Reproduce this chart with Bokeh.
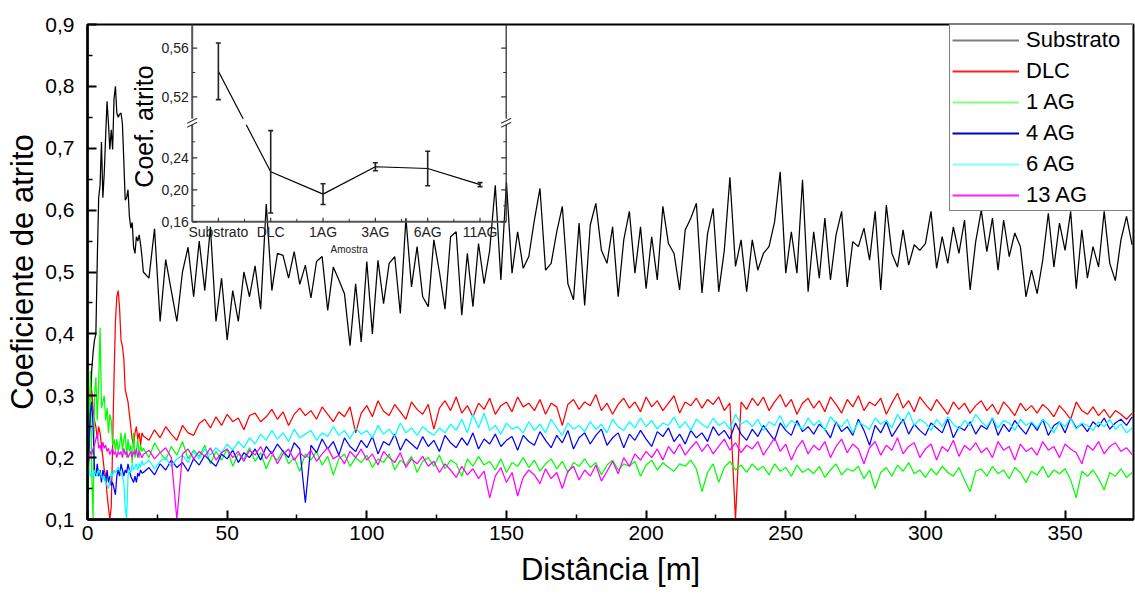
import numpy as np
from bokeh.plotting import figure
from bokeh.models import Range1d, FixedTicker, CustomJSTickFormatter, Legend, LegendItem
from bokeh.embed import file_html
from bokeh.resources import INLINE
from bokeh.core.properties import value

# ---------------- data ----------------
# sampling grid of the distance axis (m): fine near the start, then every 2 m
distancia = np.concatenate([np.arange(0, 20, 0.5), np.arange(20, 376, 2)])

substrato = [
    0.13, 0.20, 0.28, 0.34, 0.37, 0.39, 0.40, 0.52, 0.62, 0.64,
    0.71, 0.62, 0.66, 0.72, 0.776, 0.74, 0.698, 0.73, 0.698, 0.78,
    0.80, 0.757, 0.75, 0.755, 0.757, 0.74, 0.68, 0.616, 0.62, 0.633,
    0.59, 0.571, 0.58, 0.54, 0.53, 0.557, 0.55, 0.56, 0.545, 0.525,
    0.50, 0.49, 0.57, 0.42, 0.52, 0.47, 0.42, 0.50, 0.54, 0.46,
    0.55, 0.47, 0.573, 0.42, 0.49, 0.39, 0.47, 0.42, 0.50, 0.46,
    0.51, 0.44, 0.61, 0.47, 0.53, 0.527, 0.49, 0.533, 0.48, 0.511,
    0.458, 0.517, 0.525, 0.438, 0.508, 0.487, 0.465, 0.381, 0.481, 0.387,
    0.517, 0.40, 0.519, 0.449, 0.514, 0.525, 0.433, 0.587, 0.476, 0.541,
    0.46, 0.444, 0.552, 0.50, 0.44, 0.557, 0.565, 0.43, 0.53, 0.444,
    0.546, 0.481, 0.535, 0.64, 0.487, 0.645, 0.498, 0.565, 0.506, 0.525,
    0.584, 0.635, 0.503, 0.514, 0.565, 0.606, 0.481, 0.455, 0.579, 0.446,
    0.576, 0.611, 0.535, 0.514, 0.573, 0.46, 0.552, 0.598, 0.498, 0.573,
    0.473, 0.557, 0.487, 0.606, 0.546, 0.53, 0.471, 0.568, 0.587, 0.611,
    0.466, 0.562, 0.603, 0.468, 0.535, 0.653, 0.509, 0.552, 0.468, 0.552,
    0.503, 0.53, 0.541, 0.581, 0.662, 0.498, 0.565, 0.498, 0.649, 0.468,
    0.565, 0.49, 0.587, 0.487, 0.56, 0.598, 0.476, 0.549, 0.541, 0.571,
    0.519, 0.598, 0.471, 0.608, 0.53, 0.508, 0.568, 0.511, 0.544, 0.535,
    0.546, 0.598, 0.506, 0.557, 0.514, 0.573, 0.53, 0.584, 0.471, 0.549,
    0.60, 0.533, 0.587, 0.503, 0.584, 0.525, 0.563, 0.541, 0.46, 0.503,
    0.465, 0.519, 0.595, 0.508, 0.579, 0.535, 0.598, 0.473, 0.568, 0.49,
    0.541, 0.508, 0.598, 0.514, 0.486, 0.552, 0.59, 0.544,
]

dlc = [
    0.24, 0.27, 0.29, 0.31, 0.28, 0.26, 0.25, 0.23, 0.25, 0.24,
    0.22, 0.20, 0.18, 0.17, 0.14, 0.12, 0.10, 0.12, 0.22, 0.33,
    0.42, 0.46, 0.47, 0.44, 0.39, 0.38, 0.36, 0.31, 0.30, 0.29,
    0.27, 0.25, 0.23, 0.22, 0.24, 0.25, 0.23, 0.24, 0.22, 0.24,
    0.235, 0.228, 0.245, 0.232, 0.250, 0.238, 0.228, 0.252, 0.240, 0.236,
    0.255, 0.262, 0.248, 0.266, 0.252, 0.270, 0.258, 0.264, 0.245, 0.268,
    0.272, 0.258, 0.266, 0.278, 0.262, 0.274, 0.252, 0.270, 0.280, 0.268,
    0.276, 0.262, 0.282, 0.270, 0.258, 0.274, 0.266, 0.282, 0.240, 0.272,
    0.284, 0.266, 0.292, 0.275, 0.268, 0.286, 0.274, 0.262, 0.290, 0.278,
    0.270, 0.286, 0.246, 0.280, 0.292, 0.276, 0.298, 0.272, 0.284, 0.266,
    0.288, 0.278, 0.296, 0.270, 0.284, 0.290, 0.274, 0.298, 0.282, 0.288,
    0.276, 0.294, 0.270, 0.288, 0.282, 0.252, 0.286, 0.294, 0.278, 0.290,
    0.284, 0.302, 0.276, 0.288, 0.270, 0.286, 0.296, 0.280, 0.290, 0.274,
    0.298, 0.282, 0.292, 0.276, 0.288, 0.300, 0.272, 0.290, 0.284, 0.296,
    0.280, 0.294, 0.286, 0.298, 0.276, 0.288, 0.100, 0.290, 0.278, 0.296,
    0.284, 0.298, 0.276, 0.290, 0.302, 0.282, 0.294, 0.270, 0.288, 0.296,
    0.280, 0.292, 0.274, 0.298, 0.286, 0.272, 0.294, 0.282, 0.300, 0.276,
    0.290, 0.284, 0.296, 0.270, 0.288, 0.304, 0.280, 0.292, 0.274, 0.298,
    0.286, 0.276, 0.294, 0.282, 0.270, 0.290, 0.278, 0.288, 0.272, 0.284,
    0.292, 0.276, 0.286, 0.270, 0.290, 0.280, 0.268, 0.288, 0.276, 0.284,
    0.272, 0.286, 0.278, 0.266, 0.284, 0.274, 0.262, 0.290, 0.276, 0.270,
    0.282, 0.268, 0.278, 0.264, 0.276, 0.270, 0.262, 0.272,
]

ag1 = [
    0.14, 0.24, 0.34, 0.18, 0.10, 0.30, 0.33, 0.26, 0.32, 0.41,
    0.28, 0.29, 0.30, 0.26, 0.28, 0.24, 0.27, 0.26, 0.22, 0.23,
    0.21, 0.23, 0.21, 0.22, 0.24, 0.21, 0.23, 0.24, 0.20, 0.23,
    0.21, 0.22, 0.19, 0.24, 0.20, 0.21, 0.23, 0.20, 0.22, 0.21,
    0.215, 0.200, 0.224, 0.208, 0.196, 0.218, 0.204, 0.226, 0.198, 0.212,
    0.202, 0.220, 0.190, 0.210, 0.196, 0.214, 0.186, 0.206, 0.198, 0.216,
    0.194, 0.208, 0.182, 0.204, 0.196, 0.212, 0.190, 0.200, 0.178, 0.206,
    0.196, 0.210, 0.188, 0.202, 0.172, 0.198, 0.206, 0.186, 0.200, 0.192,
    0.204, 0.184, 0.198, 0.192, 0.206, 0.180, 0.196, 0.188, 0.202, 0.176,
    0.194, 0.200, 0.186, 0.204, 0.182, 0.196, 0.190, 0.170, 0.198, 0.186,
    0.202, 0.188, 0.194, 0.180, 0.198, 0.176, 0.192, 0.186, 0.200, 0.184,
    0.196, 0.178, 0.190, 0.198, 0.182, 0.194, 0.176, 0.192, 0.186, 0.198,
    0.184, 0.192, 0.172, 0.188, 0.196, 0.180, 0.190, 0.186, 0.194, 0.170,
    0.188, 0.196, 0.180, 0.192, 0.184, 0.178, 0.190, 0.186, 0.196, 0.182,
    0.145, 0.176, 0.190, 0.160, 0.184, 0.194, 0.180, 0.188, 0.176, 0.190,
    0.180, 0.186, 0.172, 0.190, 0.178, 0.184, 0.170, 0.188, 0.176, 0.182,
    0.174, 0.186, 0.168, 0.180, 0.190, 0.172, 0.182, 0.178, 0.186, 0.166,
    0.180, 0.150, 0.176, 0.184, 0.170, 0.188, 0.178, 0.192, 0.174, 0.180,
    0.168, 0.182, 0.172, 0.186, 0.176, 0.170, 0.184, 0.164, 0.145, 0.178,
    0.182, 0.170, 0.186, 0.174, 0.180, 0.166, 0.184, 0.176, 0.160, 0.178,
    0.172, 0.186, 0.168, 0.180, 0.174, 0.182, 0.164, 0.135, 0.178, 0.170,
    0.180, 0.166, 0.148, 0.176, 0.170, 0.182, 0.168, 0.176,
]

ag4 = [
    0.20, 0.22, 0.27, 0.29, 0.25, 0.18, 0.17, 0.19, 0.17, 0.18,
    0.16, 0.18, 0.17, 0.16, 0.18, 0.16, 0.17, 0.155, 0.16, 0.15,
    0.14, 0.17, 0.18, 0.17, 0.19, 0.18, 0.17, 0.18, 0.175, 0.19,
    0.18, 0.17, 0.165, 0.16, 0.17, 0.16, 0.175, 0.17, 0.18, 0.175,
    0.176, 0.184, 0.172, 0.190, 0.180, 0.196, 0.184, 0.192, 0.178, 0.198,
    0.188, 0.204, 0.194, 0.186, 0.206, 0.198, 0.212, 0.192, 0.208, 0.200,
    0.214, 0.196, 0.218, 0.206, 0.222, 0.210, 0.200, 0.224, 0.214, 0.127,
    0.220, 0.208, 0.230, 0.214, 0.226, 0.204, 0.232, 0.218, 0.210, 0.228,
    0.216, 0.234, 0.206, 0.226, 0.220, 0.238, 0.212, 0.230, 0.222, 0.214,
    0.234, 0.218, 0.228, 0.210, 0.236, 0.224, 0.216, 0.232, 0.220, 0.240,
    0.214, 0.230, 0.222, 0.238, 0.218, 0.228, 0.234, 0.212, 0.236, 0.226,
    0.220, 0.242, 0.228, 0.216, 0.236, 0.224, 0.244, 0.214, 0.232, 0.240,
    0.222, 0.236, 0.246, 0.220, 0.232, 0.240, 0.216, 0.238, 0.228, 0.244,
    0.230, 0.218, 0.242, 0.234, 0.248, 0.226, 0.238, 0.222, 0.244, 0.232,
    0.240, 0.226, 0.250, 0.236, 0.244, 0.230, 0.256, 0.238, 0.228, 0.246,
    0.234, 0.252, 0.240, 0.228, 0.256, 0.244, 0.236, 0.260, 0.242, 0.250,
    0.238, 0.254, 0.246, 0.232, 0.258, 0.242, 0.250, 0.236, 0.262, 0.244,
    0.220, 0.252, 0.240, 0.258, 0.234, 0.248, 0.262, 0.238, 0.254, 0.244,
    0.236, 0.256, 0.248, 0.240, 0.262, 0.232, 0.250, 0.244, 0.258, 0.238,
    0.252, 0.246, 0.264, 0.236, 0.254, 0.242, 0.260, 0.248, 0.238, 0.256,
    0.244, 0.262, 0.236, 0.252, 0.258, 0.240, 0.264, 0.248, 0.254, 0.242,
    0.258, 0.250, 0.264, 0.246, 0.256, 0.262, 0.252, 0.266,
]

ag6 = [
    0.19, 0.18, 0.17, 0.175, 0.17, 0.18, 0.175, 0.17, 0.18, 0.175,
    0.17, 0.165, 0.17, 0.16, 0.155, 0.15, 0.16, 0.175, 0.17, 0.18,
    0.175, 0.18, 0.185, 0.18, 0.175, 0.17, 0.16, 0.12, 0.10, 0.17,
    0.18, 0.175, 0.19, 0.18, 0.185, 0.19, 0.18, 0.19, 0.185, 0.195,
    0.188, 0.196, 0.182, 0.194, 0.200, 0.186, 0.198, 0.204, 0.192, 0.210,
    0.198, 0.214, 0.204, 0.216, 0.208, 0.222, 0.212, 0.226, 0.216, 0.232,
    0.222, 0.238, 0.228, 0.244, 0.230, 0.240, 0.226, 0.246, 0.232, 0.238,
    0.244, 0.228, 0.240, 0.234, 0.250, 0.236, 0.244, 0.230, 0.248, 0.238,
    0.244, 0.232, 0.252, 0.238, 0.246, 0.234, 0.256, 0.240, 0.248, 0.236,
    0.250, 0.242, 0.236, 0.248, 0.240, 0.254, 0.244, 0.262, 0.240, 0.270,
    0.248, 0.272, 0.244, 0.252, 0.238, 0.256, 0.246, 0.250, 0.240, 0.258,
    0.244, 0.254, 0.240, 0.262, 0.248, 0.236, 0.256, 0.246, 0.252, 0.242,
    0.258, 0.246, 0.254, 0.240, 0.262, 0.250, 0.244, 0.258, 0.248, 0.264,
    0.250, 0.260, 0.246, 0.256, 0.252, 0.266, 0.248, 0.258, 0.244, 0.262,
    0.254, 0.248, 0.264, 0.252, 0.258, 0.246, 0.270, 0.254, 0.260, 0.250,
    0.262, 0.244, 0.258, 0.252, 0.268, 0.248, 0.260, 0.254, 0.246, 0.264,
    0.252, 0.260, 0.244, 0.266, 0.256, 0.250, 0.262, 0.240, 0.258, 0.252,
    0.246, 0.264, 0.254, 0.260, 0.248, 0.270, 0.256, 0.274, 0.252, 0.262,
    0.256, 0.244, 0.262, 0.250, 0.266, 0.254, 0.246, 0.260, 0.252, 0.270,
    0.258, 0.250, 0.264, 0.248, 0.260, 0.256, 0.244, 0.262, 0.252, 0.258,
    0.248, 0.262, 0.254, 0.240, 0.258, 0.250, 0.264, 0.246, 0.256, 0.252,
    0.244, 0.258, 0.250, 0.262, 0.246, 0.254, 0.240, 0.248,
]

ag13 = [
    0.20, 0.195, 0.21, 0.205, 0.215, 0.22, 0.23, 0.24, 0.215, 0.22,
    0.21, 0.225, 0.215, 0.22, 0.21, 0.215, 0.205, 0.21, 0.215, 0.205,
    0.21, 0.20, 0.21, 0.205, 0.21, 0.20, 0.215, 0.205, 0.21, 0.20,
    0.205, 0.21, 0.20, 0.21, 0.205, 0.215, 0.20, 0.21, 0.205, 0.20,
    0.205, 0.212, 0.198, 0.208, 0.216, 0.200, 0.100, 0.206, 0.214, 0.198,
    0.210, 0.202, 0.216, 0.196, 0.208, 0.214, 0.200, 0.210, 0.194, 0.212,
    0.204, 0.218, 0.198, 0.210, 0.190, 0.206, 0.214, 0.196, 0.208, 0.200,
    0.212, 0.194, 0.206, 0.216, 0.198, 0.204, 0.190, 0.210, 0.200, 0.214,
    0.196, 0.206, 0.188, 0.210, 0.200, 0.192, 0.208, 0.184, 0.198, 0.190,
    0.202, 0.186, 0.194, 0.176, 0.190, 0.180, 0.168, 0.186, 0.172, 0.182,
    0.166, 0.178, 0.135, 0.170, 0.184, 0.160, 0.176, 0.138, 0.168, 0.180,
    0.172, 0.158, 0.182, 0.166, 0.176, 0.150, 0.178, 0.186, 0.164, 0.180,
    0.170, 0.188, 0.162, 0.178, 0.194, 0.174, 0.200, 0.186, 0.206, 0.196,
    0.210, 0.200, 0.214, 0.196, 0.218, 0.206, 0.222, 0.204, 0.216, 0.226,
    0.210, 0.222, 0.206, 0.218, 0.230, 0.212, 0.224, 0.208, 0.220, 0.214,
    0.226, 0.204, 0.218, 0.232, 0.210, 0.222, 0.196, 0.216, 0.228, 0.206,
    0.220, 0.212, 0.226, 0.200, 0.218, 0.230, 0.208, 0.222, 0.214, 0.190,
    0.216, 0.226, 0.204, 0.220, 0.212, 0.232, 0.206, 0.218, 0.224, 0.200,
    0.214, 0.222, 0.196, 0.218, 0.210, 0.228, 0.202, 0.220, 0.212, 0.224,
    0.208, 0.216, 0.200, 0.226, 0.212, 0.218, 0.196, 0.222, 0.210, 0.216,
    0.204, 0.226, 0.212, 0.218, 0.200, 0.222, 0.214, 0.208, 0.190, 0.220,
    0.212, 0.226, 0.206, 0.218, 0.224, 0.210, 0.216, 0.205,
]

series_names = ["Substrato", "DLC", "1 AG", "4 AG", "6 AG", "13 AG"]
series_values = [substrato, dlc, ag1, ag4, ag6, ag13]
series_colors = ["#000000", "#ff0000", "#00ff00", "#0000ff", "#00ffff", "#ff00ff"]
legend_colors = ["#808080", "#ff2020", "#80ff80", "#0000c8", "#80ffff", "#ff20ff"]

# inset: mean friction coefficient per sample, with error bars
inset_cats = ["Substrato", "DLC", "1AG", "3AG", "6AG", "11AG"]
inset_mean = [0.541, 0.2225, 0.1946, 0.2288, 0.2266, 0.2065]
inset_err = [0.0233, 0.0515, 0.013, 0.005, 0.0215, 0.0025]
inset_low_ticks = [0.16, 0.20, 0.24]
inset_low_minor = [0.18, 0.22, 0.26]
inset_up_ticks = [0.52, 0.56]
inset_up_minor = [0.54]

y_ticks = [0.1, 0.2, 0.3, 0.4, 0.5, 0.6, 0.7, 0.8, 0.9]
y_minor = [0.15, 0.25, 0.35, 0.45, 0.55, 0.65, 0.75, 0.85]
x_ticks = [0, 50, 100, 150, 200, 250, 300, 350]
x_minor = [25, 75, 125, 175, 225, 275, 325, 375]

for s in series_values:
    assert len(s) == len(distancia), (len(s), len(distancia))

# ---------------- layout ----------------
W, H = 1135, 594
BL, BR, BT, BB = 87, 2, 24, 75
FRAME_W, FRAME_H = W - BL - BR, H - BT - BB
FONT = "Liberation Sans"

p = figure(width=W, height=H, x_range=Range1d(0, 374.5), y_range=Range1d(0.1, 0.9),
           output_backend="svg", toolbar_location=None,
           min_border_left=BL, min_border_right=BR, min_border_top=BT, min_border_bottom=BB,
           background_fill_color="white", border_fill_color="white")
p.xgrid.visible = False
p.ygrid.visible = False
p.outline_line_color = "black"
p.outline_line_width = 2

p.xaxis.ticker = FixedTicker(ticks=x_ticks, minor_ticks=x_minor)
p.yaxis.ticker = FixedTicker(ticks=y_ticks, minor_ticks=y_minor)
p.yaxis.formatter = CustomJSTickFormatter(code="return tick.toFixed(1).replace('.', ',');")
p.xaxis.axis_label = "Distância [m]"
p.yaxis.axis_label = "Coeficiente de atrito"
for ax in (p.xaxis[0], p.yaxis[0]):
    ax.axis_line_width = 2.5
    ax.axis_line_color = "black"
    ax.major_tick_in = 9
    ax.major_tick_out = 0
    ax.minor_tick_in = 5
    ax.minor_tick_out = 0
    ax.major_tick_line_width = 2
    ax.minor_tick_line_width = 1.5
    ax.major_tick_line_color = "black"
    ax.minor_tick_line_color = "black"
    ax.major_label_text_font = FONT
    ax.major_label_text_font_size = "21px"
    ax.major_label_text_color = "black"
    ax.axis_label_text_font = FONT
    ax.axis_label_text_font_size = "31px"
    ax.axis_label_text_font_style = "normal"
    ax.axis_label_text_color = "black"
p.xaxis.major_label_standoff = 6
p.xaxis.axis_label_standoff = 9
p.yaxis.major_label_standoff = 13
p.yaxis.axis_label_standoff = 2

for ys, col in zip(series_values, series_colors):
    p.line(distancia, ys, line_color=col, line_width=1.25)

# legend: sample lines come from invisible single-NaN renderers so their style can differ
nan = float("nan")
items = []
for name, col in zip(series_names, legend_colors):
    r = p.line(x=[nan, nan], y=[nan, nan], line_color=col, line_width=2)
    items.append(LegendItem(label=name, renderers=[r]))
lg = Legend(items=items, location="top_right", margin=0, padding=2, spacing=5,
            glyph_width=67, glyph_height=26, label_height=26, label_width=104,
            label_standoff=7, label_text_font=FONT, label_text_font_size="22px",
            label_text_color="black", border_line_color="black", border_line_width=1,
            background_fill_color="white", background_fill_alpha=1.0)
p.add_layout(lg)

# ---------------- inset (broken y axis) ----------------
INSET_LEFT, INSET_W, INSET_BOTTOM = 104.7, 314.0, 197.3   # px inside the main frame
ppu = INSET_W / 6.0
ix0 = 0.5 - INSET_LEFT / ppu
p.extra_x_ranges = {"ix": Range1d(ix0, ix0 + FRAME_W / ppu)}
p.extra_y_ranges = {"iy": Range1d(INSET_BOTTOM - FRAME_H, INSET_BOTTOM)}
IR = dict(x_range_name="ix", y_range_name="iy")

LOW0, LOW_S = 0.16, 800.0            # lower segment: px per unit
UP0, UP_BASE, UP_S = 0.52, 125.0, 1215.0   # upper segment
def iy(v):
    return (v - LOW0) * LOW_S if v < 0.39 else UP_BASE + (v - UP0) * UP_S

xs = list(range(1, len(inset_cats) + 1))
ym = [iy(m) for m in inset_mean]
ylo = [iy(m - e) for m, e in zip(inset_mean, inset_err)]
yhi = [iy(m + e) for m, e in zip(inset_mean, inset_err)]
cap = 2.5 / ppu

p.line(xs, ym, line_color="black", line_width=1.2, **IR)
p.segment(x0=xs, y0=ylo, x1=xs, y1=yhi, line_color="#222222", line_width=1.6, **IR)
p.segment(x0=[x - cap for x in xs], y0=ylo, x1=[x + cap for x in xs], y1=ylo,
          line_color="#222222", line_width=1.6, **IR)
p.segment(x0=[x - cap for x in xs], y0=yhi, x1=[x + cap for x in xs], y1=yhi,
          line_color="#222222", line_width=1.6, **IR)

xl, xr = 0.5, len(inset_cats) + 0.5
# frame of inset
p.segment(x0=[xl], y0=[0], x1=[xl], y1=[INSET_BOTTOM], line_color="#555555", line_width=2, **IR)
p.segment(x0=[xl], y0=[0], x1=[xr], y1=[0], line_color="#555555", line_width=2, **IR)
p.segment(x0=[xr], y0=[0], x1=[xr], y1=[INSET_BOTTOM], line_color="#333333", line_width=1.3, **IR)

# ticks
maj = [iy(v) for v in inset_low_ticks + inset_up_ticks]
mnr = [iy(v) for v in inset_low_minor + inset_up_minor]
for side, sgn in ((xl, 1), (xr, -1)):
    p.segment(x0=[side] * len(maj), y0=maj, x1=[side + sgn * 5 / ppu] * len(maj), y1=maj,
              line_color="#333333", line_width=1.2, **IR)
    p.segment(x0=[side] * len(mnr), y0=mnr, x1=[side + sgn * 3 / ppu] * len(mnr), y1=mnr,
              line_color="#333333", line_width=1.0, **IR)
xmin = [x + 0.5 for x in xs[:-1]]
p.segment(x0=xs, y0=[0] * len(xs), x1=xs, y1=[4] * len(xs), line_color="#333333", line_width=1.2, **IR)
p.segment(x0=xmin, y0=[0] * len(xmin), x1=xmin, y1=[3] * len(xmin), line_color="#333333", line_width=1.0, **IR)

# tick labels
tv = inset_low_ticks + inset_up_ticks
p.text(x=[xl - 3.5 / ppu] * len(tv), y=[iy(v) for v in tv],
       text=[("%.2f" % v).replace(".", ",") for v in tv],
       text_align="right", text_baseline="middle", text_font=value(FONT),
       text_font_size="14px", text_color="#222222", **IR)
p.text(x=xs, y=[-2] * len(xs), text=inset_cats, text_align="center", text_baseline="top",
       text_font=value(FONT), text_font_size="14px", text_color="#222222", **IR)
p.text(x=[(xl + xr) / 2], y=[-28], text=["Amostra"], text_align="center", text_baseline="middle",
       text_font=value(FONT), text_font_size="10px", text_color="#222222", **IR)
p.text(x=[xl - 48.7 / ppu], y=[95.3], text=["Coef. atrito"], angle=np.pi / 2,
       text_align="center", text_baseline="middle", text_font=value(FONT),
       text_font_size="25px", text_color="black", **IR)

# axis break: gap and "//" marks
p.quad(left=[xl - 4 / ppu], right=[xr + 4 / ppu], bottom=[97], top=[103],
       fill_color="white", line_color=None, **IR)
for side in (xl, xr):
    for off in (-2.0, 2.0):
        p.segment(x0=[side - 5 / ppu], y0=[99 + off - 2.5], x1=[side + 5 / ppu], y1=[99 + off + 2.5],
                  line_color="#333333", line_width=1.1, **IR)

open("out.html", "w").write(file_html(p, INLINE))
